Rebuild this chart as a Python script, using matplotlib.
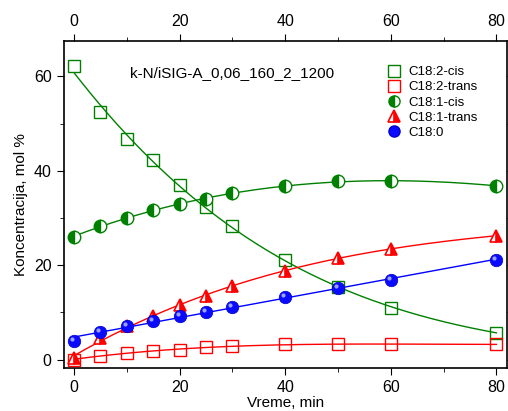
import numpy as np
import matplotlib
matplotlib.use("Agg")
import matplotlib.pyplot as plt
import matplotlib.transforms as mtransforms
from matplotlib.lines import Line2D

plt.rcParams['font.family'] = ['Liberation Sans', 'DejaVu Sans']

time = [0, 5, 10, 15, 20, 25, 30, 40, 50, 60, 80]
c182_cis = [62.2, 52.4, 46.7, 42.2, 37.1, 32.3, 28.2, 21.0, 15.4, 11.0, 5.7]
c182_trans = [0.0, 0.8, 1.4, 1.9, 2.0, 2.6, 2.8, 3.2, 3.2, 3.3, 3.2]
c181_cis = [26.0, 28.3, 30.0, 31.8, 33.0, 34.0, 35.2, 36.7, 37.8, 37.9, 36.8]
c181_trans = [0.3, 4.5, 7.0, 9.2, 11.5, 13.5, 15.5, 18.8, 21.6, 23.5, 26.2]
c180 = [3.9, 5.8, 7.0, 8.1, 9.2, 10.1, 11.2, 13.2, 15.2, 16.8, 21.1]
labels = ["C18:2-cis", "C18:2-trans", "C18:1-cis", "C18:1-trans", "C18:0"]
title_text = "k-N/iSIG-A_0,06_160_2_1200"

fig = plt.figure(figsize=(5.08, 4.11), dpi=100)
ax = fig.add_axes([0.125, 0.1046, 0.873, 0.7954])

t = np.array(time, dtype=float)
tt = np.linspace(0, 80, 200)

def fit(y, deg=3):
    p = np.polyfit(t, np.array(y, dtype=float), deg)
    return np.polyval(p, tt)

# fitted curves
cis_log = np.polyfit(t, np.log(np.array(c182_cis)), 2)
ax.plot(tt, np.exp(np.polyval(cis_log, tt)), color='green', lw=1, zorder=2)
ax.plot(tt, fit(c182_trans, 3), color='red', lw=1, zorder=2)
ax.plot(tt, fit(c181_cis, 3), color='green', lw=1, zorder=2)
ax.plot(tt, fit(c181_trans, 3), color='red', lw=1, zorder=2)
ax.plot(tt, fit(c180, 1), color='blue', lw=1, zorder=2)

ms = 9
ax.plot(t, c182_cis, 's', ms=ms, mfc='none', mec='green', mew=1, zorder=3)
ax.plot(t, c182_trans, 's', ms=ms, mfc='none', mec='red', mew=1, zorder=3)
ax.plot(t, c181_cis, 'o', ms=ms, fillstyle='left', mfc='green', mfcalt='white', mec='green', mew=1, zorder=3)
ax.plot(t, c181_trans, '^', ms=ms, fillstyle='right', mfc='red', mfcalt='white', mec='red', mew=1.2, zorder=3)
ax.plot(t, c180, 'o', ms=ms, mfc='#0a0aff', mec='#0000cc', mew=0.5, zorder=3)
# sphere highlight
hl = ax.transData + mtransforms.ScaledTranslation(-1.5 / 72, 1.5 / 72, fig.dpi_scale_trans)
ax.plot(t, c180, 'o', ms=3, mfc='#aab4ff', mec='none', alpha=0.9, zorder=4, transform=hl)

ax.set_xlim(-2, 82)
ax.set_ylim(-1.8, 67.5)
ax.set_xticks([0, 20, 40, 60, 80])
ax.set_xticks([10, 30, 50, 70], minor=True)
ax.set_yticks([0, 20, 40, 60])
ax.set_yticks([10, 30, 50], minor=True)
ax.tick_params(which='both', direction='out', labelsize=11.5, right=True, top=True, labeltop=True)
ax.tick_params(which='major', length=5)
ax.tick_params(which='minor', length=3)
for s in ax.spines.values():
    s.set_linewidth(1.2)
ax.set_xlabel("Vreme, min", fontsize=11, labelpad=1)
ax.set_ylabel("Koncentracija, mol %", fontsize=11)

fig.text(130 / 508, 1 - 73 / 411, title_text, fontsize=11, va='center')

handles = [
    Line2D([], [], ls='none', marker='s', ms=8, mfc='none', mec='green'),
    Line2D([], [], ls='none', marker='s', ms=8, mfc='none', mec='red'),
    Line2D([], [], ls='none', marker='o', ms=8, fillstyle='left', mfc='green', mfcalt='white', mec='green'),
    Line2D([], [], ls='none', marker='^', ms=8, fillstyle='right', mfc='red', mfcalt='white', mec='red', mew=1.2),
    Line2D([], [], ls='none', marker='o', ms=8, mfc='#0a0aff', mec='#0000cc'),
]
ax.legend(handles, labels, loc='upper left', bbox_to_anchor=(0.7, 0.96), frameon=False,
          fontsize=9.5, handletextpad=0.5, labelspacing=0.22, handlelength=1.2)

fig.savefig("out.png", dpi=100)
